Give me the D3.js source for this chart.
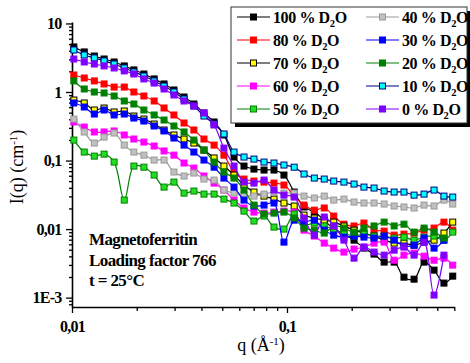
<!DOCTYPE html>
<html>
<head>
<meta charset="utf-8">
<script src="https://cdn.jsdelivr.net/npm/d3@7"></script>
<style>
  body { margin: 0; background: #fff; }
  svg { display: block; font-family: "Liberation Serif", "Times New Roman", serif; font-weight: bold; }
</style>
</head>
<body>
<svg id="chart" width="470" height="363"></svg>
<script>
// q values (1/A), shared by all series
const q = [0.0102, 0.0114, 0.0127, 0.0141, 0.0157, 0.0175, 0.0194, 0.0216, 0.0241, 0.0268,
  0.0298, 0.0332, 0.0369, 0.0411, 0.0458, 0.0509, 0.0567, 0.0631, 0.0702, 0.0782,
  0.087, 0.0968, 0.108, 0.12, 0.134, 0.149, 0.165, 0.184, 0.205, 0.228,
  0.254, 0.283, 0.315, 0.35, 0.39, 0.434, 0.483, 0.537, 0.59];

// I(q) in cm-1
const d100 = [4.54, 3.84, 3.35, 3.03, 2.74, 2.40, 2.10, 1.83, 1.55, 1.31, 1.07, 0.845, 0.668, 0.494, 0.365, 0.236, 0.1125, 0.0831, 0.0751, 0.0727,
  0.0727, 0.0614, 0.0347, 0.0210, 0.0177, 0.0135, 0.0100, 0.00845, 0.0069, 0.00528, 0.00432, 0.0033, 0.0033, 0.00199, 0.00186, 0.0033, 0.00252, 0.00163, 0.00206];
const d80 = [1.77, 1.60, 1.45, 1.31, 1.18, 1.18, 1.0, 0.874, 0.739, 0.584, 0.462, 0.353, 0.279, 0.206, 0.168, 0.120, 0.068, 0.0537, 0.0502, 0.0485,
  0.0469, 0.0439, 0.0303, 0.0224, 0.0189, 0.0203, 0.0155, 0.0118, 0.0111, 0.01224, 0.00966, 0.00935, 0.00817, 0.00845, 0.00875, 0.00966, 0.01035, 0.01265, 0.00966];
const d70 = [0.764, 0.691, 0.546, 0.584, 0.511, 0.528, 0.446, 0.403, 0.341, 0.279, 0.236, 0.206, 0.180, 0.142, 0.109, 0.0831, 0.0614, 0.0439, 0.0347, 0.0303,
  0.0274, 0.0240, 0.0217, 0.0160, 0.0145, 0.0135, 0.01265, 0.0111, 0.00966, 0.00875, 0.00791, 0.0069, 0.00625, 0.00625, 0.00583, 0.00646, 0.0069, 0.00875, 0.01265];
const d60 = [0.365, 0.308, 0.261, 0.261, 0.270, 0.236, 0.206, 0.186, 0.163, 0.138, 0.120, 0.092, 0.0777, 0.0594, 0.0469, 0.0371, 0.0265, 0.0203, 0.0177, 0.0171,
  0.0177, 0.0183, 0.0177, 0.00966, 0.00791, 0.00625, 0.00528, 0.00462, 0.00511, 0.00546, 0.00625, 0.00646, 0.00352, 0.00417, 0.00446, 0.00403, 0.00352, 0.00377, 0.00298];
const d50 = [0.199, 0.133, 0.116, 0.124, 0.095, 0.0265, 0.0831, 0.080, 0.0614, 0.0410, 0.0485, 0.0335, 0.0359, 0.0324, 0.0324, 0.0274, 0.0240, 0.0183, 0.0131, 0.0155,
  0.0107, 0.0100, 0.0166, 0.0114, 0.01224, 0.0111, 0.0100, 0.00875, 0.00791, 0.00845, 0.00791, 0.00791, 0.0074, 0.00764, 0.0069, 0.00764, 0.00791, 0.0069, 0.00904];
const d40 = [0.403, 0.261, 0.180, 0.220, 0.252, 0.168, 0.133, 0.120, 0.1016, 0.1016, 0.068, 0.0594, 0.0657, 0.0537, 0.0519, 0.0371, 0.0335, 0.0313, 0.0303, 0.0324,
  0.0347, 0.0335, 0.0335, 0.0303, 0.0284, 0.0303, 0.0265, 0.0274, 0.0248, 0.0240, 0.0240, 0.0232, 0.0217, 0.0210, 0.0203, 0.0224, 0.0217, 0.0265, 0.0232];
const d30 = [0.691, 0.604, 0.477, 0.546, 0.462, 0.477, 0.417, 0.377, 0.319, 0.270, 0.213, 0.168, 0.133, 0.1016, 0.080, 0.0555, 0.0410, 0.0265, 0.0217, 0.0224,
  0.0240, 0.00646, 0.0135, 0.01265, 0.0135, 0.00966, 0.00817, 0.00764, 0.00791, 0.00764, 0.0074, 0.00791, 0.0069, 0.00565, 0.00583, 0.0074, 0.00528, 0.0069, null];
const d20 = [1.45, 1.106, 1.0, 0.967, 0.874, 0.739, 0.668, 0.546, 0.462, 0.390, 0.319, 0.261, 0.199, 0.142, 0.095, 0.068, 0.0555, 0.0371, 0.0224, 0.01656,
  0.0171, 0.0177, 0.0145, 0.01035, 0.00966, 0.00875, 0.0111, 0.01035, 0.00904, 0.01035, 0.0111, 0.01265, 0.0111, 0.0118, 0.00904, 0.01035, 0.00904, 0.0074, null];
const d10 = [4.10, 3.47, 3.14, 2.84, 2.56, 2.24, 1.96, 1.71, 1.45, 1.22, 1.00, 0.79, 0.625, 0.446, 0.341, 0.244, 0.133, 0.1125, 0.105, 0.095,
  0.092, 0.086, 0.080, 0.0636, 0.0555, 0.0537, 0.0502, 0.0485, 0.0454, 0.0410, 0.0397, 0.0359, 0.0347, 0.0347, 0.0313, 0.0324, 0.0371, 0.0303, 0.0293];
const d0 = [3.03, 2.74, 2.56, 2.40, 2.24, 2.03, 1.83, 1.55, 1.35, 1.106, 0.904, 0.739, 0.625, 0.494, 0.330, 0.152, 0.0831, 0.0485, 0.0469, 0.0519,
  0.0371, 0.0313, 0.0293, 0.0145, 0.00817, 0.0150, 0.0111, 0.0069, 0.00377, 0.00546, 0.00462, 0.00417, 0.00493, 0.00546, 0.00417, 0.00646, 0.00109, 0.00417, null];

const labels = ["100", "80", "70", "60", "50", "40", "30", "20", "10", "0"];
const values = [d100, d80, d70, d60, d50, d40, d30, d20, d10, d0];
const lineColors = ["#000000", "#ff0000", "#000000", "#ff00ff", "#008000", "#999999", "#0000ff", "#008000", "#000080", "#8000ff"];
const fillColors = ["#000000", "#ff0000", "#ffff00", "#ff00ff", "#22dd22", "#c0c0c0", "#0000ff", "#008000", "#00ffff", "#8000ff"];
const edgeColors = ["#000000", "#ff0000", "#000000", "#ff00ff", "#008000", "#999999", "#0000ff", "#008000", "#000080", "#8000ff"];

const xMajor = [0.01, 0.1];
const xMinor = [0.02, 0.03, 0.04, 0.05, 0.06, 0.07, 0.08, 0.09, 0.2, 0.3, 0.4, 0.5, 0.6];
const xLabels = {0.01: "0,01", 0.1: "0,1"};
const yMajor = [0.001, 0.01, 0.1, 1, 10];
const yLabels = {0.001: "1E-3", 0.01: "0,01", 0.1: "0,1", 1: "1", 10: "10"};

const svg = d3.select("#chart");
const x = d3.scaleLog().domain([0.01, 0.6]).range([72, 454.3]);
const y = d3.scaleLog().domain([7.3e-4, 10.5]).range([307, 22]);

const yMinor = [];
[0.0001, 0.001, 0.01, 0.1, 1].forEach(b => {
  for (let k = 2; k <= 9; k++) {
    const v = b * k;
    if (v >= 7.3e-4 && v <= 10.5) yMinor.push(v);
  }
});

// axes
const gx = svg.append("g").attr("transform", "translate(0,307)");
gx.call(d3.axisBottom(x).tickValues(xMinor).tickSize(4).tickSizeOuter(0).tickFormat(""));
gx.call(g => g.selectAll(".domain").remove());
const gx2 = svg.append("g").attr("transform", "translate(0,307)")
  .call(d3.axisBottom(x).tickValues(xMajor).tickSize(6).tickSizeOuter(0).tickFormat(d => xLabels[d]));

const gy = svg.append("g").attr("transform", "translate(72,0)");
gy.call(d3.axisLeft(y).tickValues(yMinor).tickSize(3).tickSizeOuter(0).tickFormat(""));
gy.call(g => g.selectAll(".domain").remove());
const gy2 = svg.append("g").attr("transform", "translate(72,0)")
  .call(d3.axisLeft(y).tickValues(yMajor).tickSize(6).tickSizeOuter(0).tickFormat(d => yLabels[d]));

svg.selectAll(".domain").attr("stroke", "#000").attr("stroke-width", 1.6);
svg.selectAll(".tick line").attr("stroke", "#000").attr("stroke-width", 1.3);
svg.selectAll(".tick text").attr("fill", "#000").attr("font-size", 16)
  .attr("font-family", "Liberation Serif, serif").attr("font-weight", "bold").attr("letter-spacing", -0.8);
gx2.selectAll(".tick text").attr("dy", "1em");
gy2.selectAll(".tick text").attr("dx", "-0.1em");

// series
const line = d3.line()
  .defined(d => d.v != null)
  .x(d => x(d.q))
  .y(d => y(d.v))
  .curve(d3.curveCatmullRom.alpha(0.5));

values.forEach((arr, i) => {
  const pts = q.map((qq, j) => ({q: qq, v: arr[j]}));
  const g = svg.append("g");
  g.append("path").datum(pts.filter(d => d.v != null))
    .attr("d", line).attr("fill", "none")
    .attr("stroke", lineColors[i]).attr("stroke-width", 1.2);
  g.selectAll("rect").data(pts.filter(d => d.v != null)).join("rect")
    .attr("x", d => x(d.q) - 3).attr("y", d => y(d.v) - 3)
    .attr("width", 6).attr("height", 6)
    .attr("fill", fillColors[i]).attr("stroke", edgeColors[i]).attr("stroke-width", 1);
});

// legend
const lg = svg.append("g");
lg.append("rect").attr("x", 235).attr("y", 11).attr("width", 236).attr("height", 116).attr("fill", "#000");
lg.append("rect").attr("x", 231).attr("y", 7).attr("width", 236).attr("height", 116)
  .attr("fill", "#fff").attr("stroke", "#333").attr("stroke-width", 1);
labels.forEach((lab, i) => {
  const col = Math.floor(i / 5), row = i % 5;
  const x0 = col === 0 ? 237 : 366;
  const yy = 17 + row * 23;
  lg.append("line").attr("x1", x0).attr("x2", x0 + 33).attr("y1", yy).attr("y2", yy)
    .attr("stroke", lineColors[i]).attr("stroke-width", 1.2);
  lg.append("rect").attr("x", x0 + 13.5).attr("y", yy - 3).attr("width", 6).attr("height", 6)
    .attr("fill", fillColors[i]).attr("stroke", edgeColors[i]).attr("stroke-width", 1);
  const t = lg.append("text").attr("x", x0 + 36).attr("y", yy + 5.5)
    .attr("font-size", 16).attr("letter-spacing", -0.4);
  t.append("tspan").text(lab + " % D");
  t.append("tspan").attr("dy", 4).attr("font-size", 10.5).text("2");
  t.append("tspan").attr("dy", -4).text("O");
});

// annotation
const note = ["Magnetoferritin", "Loading factor 766", "t = 25°C"];
svg.append("g").selectAll("text").data(note).join("text")
  .attr("x", 89).attr("y", (d, i) => 245 + i * 20.5)
  .attr("font-size", 17).attr("letter-spacing", -0.6).text(d => d);

// axis titles
const yt = svg.append("text").attr("transform", "translate(23,167) rotate(-90)")
  .attr("text-anchor", "middle").attr("font-size", 18).attr("font-weight", "normal");
yt.append("tspan").text("I(q) (cm");
yt.append("tspan").attr("dy", -6).attr("font-size", 11).text("-1");
yt.append("tspan").attr("dy", 6).text(")");

const xt = svg.append("text").attr("x", 261).attr("y", 351)
  .attr("text-anchor", "middle").attr("font-size", 18).attr("font-weight", "normal");
xt.append("tspan").text("q (Å");
xt.append("tspan").attr("dy", -6).attr("font-size", 11).text("-1");
xt.append("tspan").attr("dy", 6).text(")");
</script>
</body>
</html>
